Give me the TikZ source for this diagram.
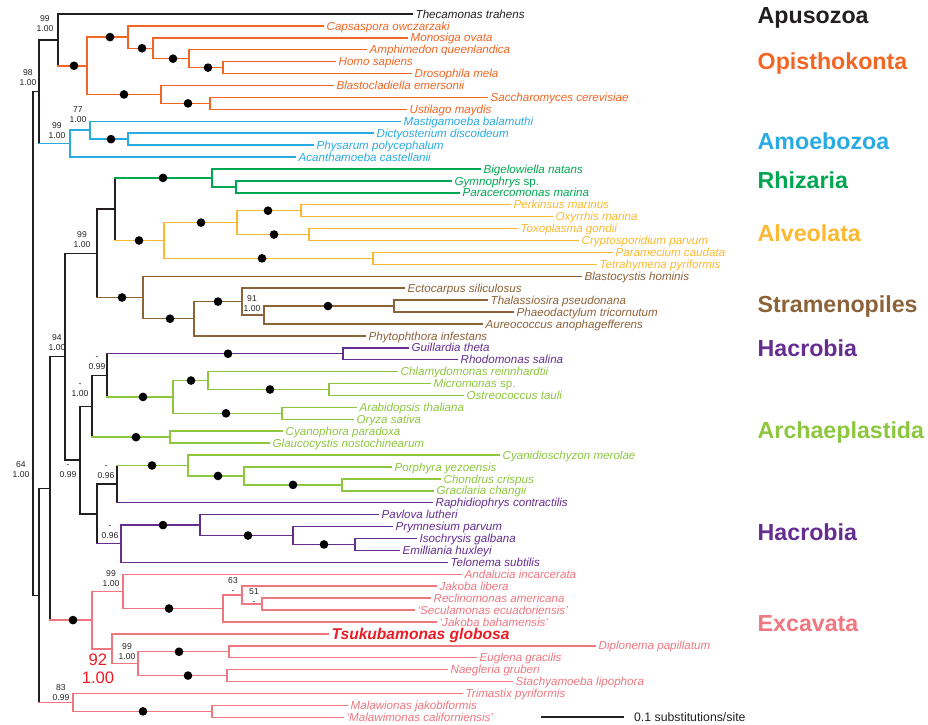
\documentclass[tikz,border=0pt]{standalone}
\usepackage{fontspec}
\setmainfont{Liberation Sans}
\usetikzlibrary{positioning}
\definecolor{blkc}{RGB}{35,31,32}
\definecolor{opic}{RGB}{242,101,34}
\definecolor{amoc}{RGB}{41,171,226}
\definecolor{rhic}{RGB}{0,166,81}
\definecolor{alvc}{RGB}{251,184,48}
\definecolor{strc}{RGB}{140,98,57}
\definecolor{hacc}{RGB}{102,45,145}
\definecolor{arcc}{RGB}{141,198,63}
\definecolor{excc}{RGB}{240,118,128}
\definecolor{tsuc}{RGB}{237,28,36}

\begin{document}
\begin{tikzpicture}[x=.03cm,y=-.3576cm,
  line width=1.25pt, line cap=rect, color=blkc,
  every node/.style={inner sep=0pt},
  taxon/.style={anchor=west,inner xsep=2.5pt,font=\fontsize{9.9}{11}\selectfont\itshape,
    text height=7.1pt,text depth=0pt},
  clade/.style={anchor=west,font=\fontsize{19.8}{22}\selectfont\bfseries,
    text height=14.2pt,text depth=0pt},
  supp/.style={align=center,font=\fontsize{7.3}{8.6}\selectfont},
  pp/.style={circle,fill=black,minimum size=.26cm}]
\useasboundingbox (0,-1.174) rectangle (928,59.564);

% leaves
\node[taxon,blkc] (thec) at (412,0) {Thecamonas trahens};
\node[taxon,opic] (caps) at (323,1) {Capsaspora owczarzaki};
\node[taxon,opic] (mono) at (407,2) {Monosiga ovata};
\node[taxon,opic] (amph) at (366,3) {Amphimedon queenlandica};
\node[taxon,opic] (homo) at (335,4) {Homo sapiens};
\node[taxon,opic] (dros) at (411,5) {Drosophila mela};
\node[taxon,opic] (blas) at (333,6) {Blastocladiella emersonii};
\node[taxon,opic] (sacc) at (487,7) {Saccharomyces cerevisiae};
\node[taxon,opic] (usti) at (406,8) {Ustilago maydis};
\node[taxon,amoc] (mast) at (400,9) {Mastigamoeba balamuthi};
\node[taxon,amoc] (dict) at (373,10) {Dictyosterium discoideum};
\node[taxon,amoc] (phys) at (313,11) {Physarum polycephalum};
\node[taxon,amoc] (acan) at (295,12) {Acanthamoeba castellanii};
\node[taxon,rhic] (bige) at (480,13) {Bigelowiella natans};
\node[taxon,rhic] (gymn) at (451,14) {Gymnophrys \upshape sp.};
\node[taxon,rhic] (para) at (459,15) {Paracercomonas marina};
\node[taxon,alvc] (perk) at (510,16) {Perkinsus marinus};
\node[taxon,alvc] (oxyr) at (552,17) {Oxyrrhis marina};
\node[taxon,alvc] (toxo) at (517,18) {Toxoplasma gondii};
\node[taxon,alvc] (cryp) at (578,19) {Cryptosporidium parvum};
\node[taxon,alvc] (pmec) at (612,20) {Paramecium caudata};
\node[taxon,alvc] (tetr) at (596,21) {Tetrahymena pyriformis};
\node[taxon,strc] (blcy) at (581,22) {Blastocystis hominis};
\node[taxon,strc] (ecto) at (404,23) {Ectocarpus siliculosus};
\node[taxon,strc] (thal) at (487,24) {Thalassiosira pseudonana};
\node[taxon,strc] (phae) at (513,25) {Phaeodactylum tricornutum};
\node[taxon,strc] (aure) at (482,26) {Aureococcus anophagefferens};
\node[taxon,strc] (phyt) at (365,27) {Phytophthora infestans};
\node[taxon,hacc] (guil) at (408,28) {Guillardia theta};
\node[taxon,hacc] (rhod) at (457,29) {Rhodomonas salina};
\node[taxon,arcc] (chla) at (397,30) {Chlamydomonas reinnhardtii};
\node[taxon,arcc] (micr) at (430,31) {Micromonas \upshape sp.};
\node[taxon,arcc] (ostr) at (463,32) {Ostreococcus tauli};
\node[taxon,arcc] (arab) at (356,33) {Arabidopsis thaliana};
\node[taxon,arcc] (oryz) at (353,34) {Oryza sativa};
\node[taxon,arcc] (cyph) at (282,35) {Cyanophora paradoxa};
\node[taxon,arcc] (glau) at (269,36) {Glaucocystis nostochinearum};
\node[taxon,arcc] (cyan) at (499,37) {Cyanidioschyzon merolae};
\node[taxon,arcc] (porp) at (391,38) {Porphyra yezoensis};
\node[taxon,arcc] (chon) at (440,39) {Chondrus crispus};
\node[taxon,arcc] (grac) at (433,40) {Gracilaria changii};
\node[taxon,hacc] (raph) at (432,41) {Raphidiophrys contractilis};
\node[taxon,hacc] (pavl) at (378,42) {Pavlova lutheri};
\node[taxon,hacc] (prym) at (392,43) {Prymnesium parvum};
\node[taxon,hacc] (isoc) at (416,44) {Isochrysis galbana};
\node[taxon,hacc] (emil) at (399,45) {Emilliania huxleyi};
\node[taxon,hacc] (telo) at (447,46) {Telonema subtilis};
\node[taxon,excc] (anda) at (461,47) {Andalucia incarcerata};
\node[taxon,excc] (jlib) at (436,48) {Jakoba libera};
\node[taxon,excc] (recl) at (430,49) {Reclinomonas americana};
\node[taxon,excc] (secu) at (414,50) {`Seculamonas ecuadoriensis'};
\node[taxon,excc] (jbah) at (436,51) {`Jakoba bahamensis'};
\node[taxon,tsuc,font=\fontsize{13.3}{15}\selectfont\bfseries\itshape,text height=9.5pt]
  (tsuk) at (328,52) {Tsukubamonas globosa};
\node[taxon,excc] (dipl) at (595,53) {Diplonema papillatum};
\node[taxon,excc] (eugl) at (476,54) {Euglena gracilis};
\node[taxon,excc] (naeg) at (447,55) {Naegleria gruberi};
\node[taxon,excc] (stac) at (512,56) {Stachyamoeba lipophora};
\node[taxon,excc] (trim) at (462,57) {Trimastix pyriformis};
\node[taxon,excc] (mjak) at (347,58) {Malawionas jakobiformis};
\node[taxon,excc] (mcal) at (343,59) {`Malawimonas californiensis'};

% internal nodes
\coordinate (hd) at (223,4.5);
\coordinate (ahd) at (189,3.75);
\coordinate (mahd) at (153,2.875);
\coordinate (cmahd) at (128,1.9375);
\coordinate (su) at (210,7.5);
\coordinate (bsu) at (161,6.75);
\coordinate (opis) at (87,4.34375);
\coordinate (apop) at (58,2.171875);
\coordinate (dp) at (128,10.5);
\coordinate (mdp) at (90,9.75);
\coordinate (amoe) at (70,10.875);
\coordinate (top) at (39,6.5234);
\coordinate (gp) at (236,14.5);
\coordinate (rhz) at (212,13.75);
\coordinate (po) at (301,16.5);
\coordinate (tc) at (309,18.5);
\coordinate (apic) at (237,17.5);
\coordinate (pt) at (373,20.5);
\coordinate (alv) at (164,19);
\coordinate (sarone) at (115,16.375);
\coordinate (thph) at (394,24.5);
\coordinate (tpa) at (264,25.25);
\coordinate (etpa) at (242,24.125);
\coordinate (ochr) at (194,25.5625);
\coordinate (stra) at (143,23.78125);
\coordinate (sar) at (97,20.078);
\coordinate (gr) at (343,28.5);
\coordinate (mo) at (329,31.5);
\coordinate (cmo) at (208,30.75);
\coordinate (ao) at (282,33.5);
\coordinate (chlo) at (173,32.125);
\coordinate (crch) at (107,30.3125);
\coordinate (cg) at (170,35.5);
\coordinate (arca) at (92,32.906);
\coordinate (cgr) at (342,39.5);
\coordinate (pcg) at (244,38.75);
\coordinate (rho) at (188,37.875);
\coordinate (rr) at (117,39.4375);
\coordinate (ie) at (355,44.5);
\coordinate (pie) at (293,43.75);
\coordinate (hapt) at (200,42.875);
\coordinate (ht) at (121,44.4375);
\coordinate (hacb) at (97,41.9375);
\coordinate (mid) at (80,37.42);
\coordinate (diap) at (65,28.75);
\coordinate (rs) at (262,49.5);
\coordinate (jrs) at (242,48.75);
\coordinate (jrsb) at (223,49.875);
\coordinate (jak) at (123,48.4375);
\coordinate (de) at (229,53.5);
\coordinate (ns) at (227,55.5);
\coordinate (disc) at (138,54.5);
\coordinate (td) at (112,53.25);
\coordinate (exca) at (92,50.84375);
\coordinate (bot) at (50,39.797);
\coordinate (mal) at (212,58.5);
\coordinate (tm) at (73,57.75);
\coordinate (low) at (39,48.77);
\coordinate (root) at (33,27.65);

% branches
\draw[opic] (homo.west) -| (hd) |- (dros.west);
\draw[opic] (amph.west) -| (ahd) |- (hd);
\draw[opic] (mono.west) -| (mahd) |- (ahd);
\draw[opic] (caps.west) -| (cmahd) |- (mahd);
\draw[opic] (sacc.west) -| (su) |- (usti.west);
\draw[opic] (blas.west) -| (bsu) |- (su);
\draw[opic] (cmahd) -| (opis) |- (bsu);
\draw (thec.west) -| (apop) |- (opis);
\draw[opic] (apop |- opis) -- (opis);
\draw[amoc] (dict.west) -| (dp) |- (phys.west);
\draw[amoc] (mast.west) -| (mdp) |- (dp);
\draw[amoc] (mdp) -| (amoe) |- (acan.west);
\draw (apop) -| (top) |- (amoe);
\draw[amoc] (top |- amoe) -- (amoe);
\draw[rhic] (gymn.west) -| (gp) |- (para.west);
\draw[rhic] (bige.west) -| (rhz) |- (gp);
\draw[alvc] (perk.west) -| (po) |- (oxyr.west);
\draw[alvc] (toxo.west) -| (tc) |- (cryp.west);
\draw[alvc] (po) -| (apic) |- (tc);
\draw[alvc] (pmec.west) -| (pt) |- (tetr.west);
\draw[alvc] (apic) -| (alv) |- (pt);
\draw (sarone |- rhz) -- (sarone |- alv);
\draw[rhic] (sarone |- rhz) -- (rhz);
\draw[alvc] (sarone |- alv) -- (alv);
\draw[strc] (thal.west) -| (thph) |- (phae.west);
\draw[strc] (thph) -| (tpa) |- (aure.west);
\draw[strc] (ecto.west) -| (etpa) |- (tpa);
\draw[strc] (etpa) -| (ochr) |- (phyt.west);
\draw[strc] (blcy.west) -| (stra) |- (ochr);
\draw (sarone) -| (sar) |- (stra);
\draw[strc] (sar |- stra) -- (stra);
\draw[hacc] (guil.west) -| (gr) |- (rhod.west);
\draw[arcc] (micr.west) -| (mo) |- (ostr.west);
\draw[arcc] (chla.west) -| (cmo) |- (mo);
\draw[arcc] (arab.west) -| (ao) |- (oryz.west);
\draw[arcc] (cmo) -| (chlo) |- (ao);
\draw (crch |- gr) -- (crch |- chlo);
\draw[hacc] (crch |- gr) -- (gr);
\draw[arcc] (crch |- chlo) -- (chlo);
\draw[arcc] (cyph.west) -| (cg) |- (glau.west);
\draw (crch) -| (arca) |- (cg);
\draw[arcc] (arca |- cg) -- (cg);
\draw[arcc] (chon.west) -| (cgr) |- (grac.west);
\draw[arcc] (porp.west) -| (pcg) |- (cgr);
\draw[arcc] (cyan.west) -| (rho) |- (pcg);
\draw (rr |- rho) -- (rr |- raph.west);
\draw[arcc] (rr |- rho) -- (rho);
\draw[hacc] (rr |- raph.west) -- (raph.west);
\draw[hacc] (isoc.west) -| (ie) |- (emil.west);
\draw[hacc] (prym.west) -| (pie) |- (ie);
\draw[hacc] (pavl.west) -| (hapt) |- (pie);
\draw[hacc] (hapt) -| (ht) |- (telo.west);
\draw (rr) -| (hacb) |- (ht);
\draw[hacc] (hacb |- ht) -- (ht);
\draw (arca) -| (mid) |- (hacb);
\draw (sar) -| (diap) |- (mid);
\draw[excc] (recl.west) -| (rs) |- (secu.west);
\draw[excc] (jlib.west) -| (jrs) |- (rs);
\draw[excc] (jrs) -| (jrsb) |- (jbah.west);
\draw[excc] (anda.west) -| (jak) |- (jrsb);
\draw[excc] (dipl.west) -| (de) |- (eugl.west);
\draw[excc] (naeg.west) -| (ns) |- (stac.west);
\draw[excc] (de) -| (disc) |- (ns);
\draw[excc] (tsuk.west) -| (td) |- (disc);
\draw[excc] (jak) -| (exca) |- (td);
\draw (diap) -| (bot) |- (exca);
\draw[excc] (bot |- exca) -- (exca);
\draw[excc] (mjak.west) -| (mal) |- (mcal.west);
\draw[excc] (trim.west) -| (tm) |- (mal);
\draw (bot) -| (low) |- (tm);
\draw[excc] (low |- tm) -- (tm);
\draw (top) -| (root) |- (low);

% full support dots
\foreach \x/\y [count=\i] in {74/4.344,110/1.938,142/2.875,173/3.75,208/4.5,124/6.75,188/7.5,
  111/10.5,163/13.75,139/19,201/17.5,268/16.5,274/18.5,262/20.5,
  122/23.781,170/25.563,218/24.125,328/24.5,
  228/28.5,143/32.125,191/30.75,270/31.5,226/33.5,136/35.5,
  152/37.875,218/38.75,293/39.5,163/42.875,248/43.75,324/44.5,
  73/50.844,169/49.875,179/53.5,188/55.5,143/58.5}
  \node[pp] (p\i) at (\x,\y) {};

% support values
\node[supp] (s1) at (45,.8) {99\\1.00};
\node[supp] (s2) at (28,5.33) {98\\1.00};
\node[supp] (s3) at (57,9.77) {99\\1.00};
\node[supp] (s4) at (78,8.47) {77\\1.00};
\node[supp] (s5) at (82,18.92) {99\\1.00};
\node[supp] (s6) at (252,24.29) {91\\1.00};
\node[supp] (s7) at (57,27.55) {94\\1.00};
\node[supp] (s8) at (97,29.27) {-\\0.99};
\node[supp] (s9) at (80,31.6) {-\\1.00};
\node[supp] (s10) at (68,38.38) {-\\0.99};
\node[supp] (s11) at (106,38.42) {-\\0.96};
\node[supp] (s12) at (110,43.5) {-\\0.96};
\node[supp] (s13) at (21,38.2) {64\\1.00};
\node[supp] (s14) at (111,47.35) {99\\1.00};
\node[supp] (s15) at (233,47.98) {63\\-};
\node[supp] (s16) at (254,48.88) {51\\-};
\node[supp] (s18) at (127,53.5) {99\\1.00};
\node[supp] (s19) at (61,56.9) {83\\0.99};
\node[supp,tsuc,font=\fontsize{14.2}{15.3}\selectfont] (s17) at (98,54.95) {92\\1.00};

% clade names
\node[clade,blkc] (apu) at (757,.08) {Apusozoa};
\node[clade,opic] (opi) at (757,3.94) {Opisthokonta};
\node[clade,amoc] (amo) at (757,10.65) {Amoebozoa};
\node[clade,rhic] (rhi) at (757,13.93) {Rhizaria};
\node[clade,alvc] (alve) at (757,18.37) {Alveolata};
\node[clade,strc] (strm) at (757,24.33) {Stramenopiles};
\node[clade,hacc] (haca) at (757,28.02) {Hacrobia};
\node[clade,arcc] (arch) at (757,34.9) {Archaeplastida};
\node[clade,hacc] (hacz) at (757,43.46) {Hacrobia};
\node[clade,excc] (exc) at (757,51.09) {Excavata};

% scale bar
\coordinate (sba) at (541,59);
\coordinate (sbb) at (624,59);
\draw[line width=1.5pt,line cap=butt] (sba) -- (sbb);
\node[anchor=west,font=\fontsize{10.5}{12}\selectfont,text height=7.5pt,text depth=0pt,
  right=8pt of sbb] (sbt) {0.1 substitutions/site};
\end{tikzpicture}
\end{document}
